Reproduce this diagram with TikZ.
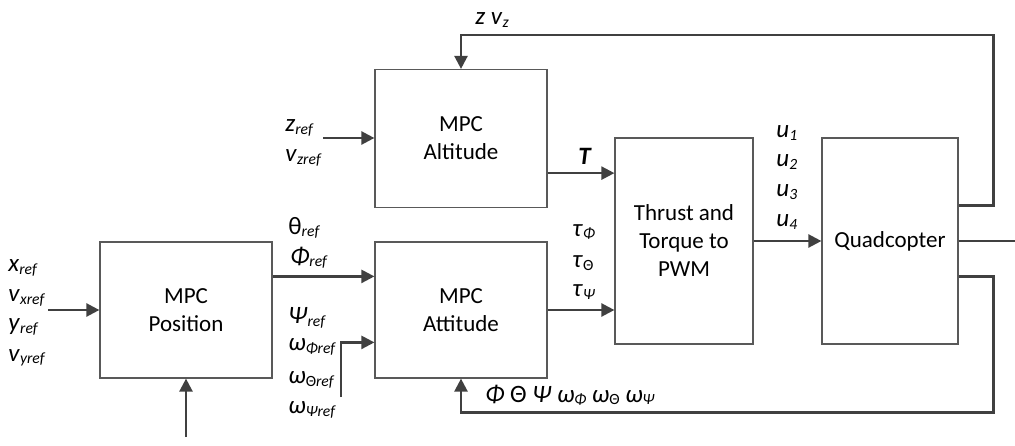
\documentclass[tikz,border=0pt]{standalone}
\usepackage{fontspec}
\setmainfont{Carlito}
\usetikzlibrary{arrows.meta, positioning, calc}

% senal con subindice
\newcommand{\sig}[2]{\textit{#1}\raisebox{-0.2ex}{\fontsize{7.8}{9}\selectfont\textit{#2}}}

\begin{document}
\begin{tikzpicture}[x=0.5pt, y=-0.5pt,
    block/.style={draw=black!65, line width=0.6pt, align=center, inner sep=0pt,
        font=\fontsize{11.5}{14}\selectfont},
    arr/.style={draw=black!75, line width=1.2pt, -{Triangle[length=6.5pt,width=6.5pt]}},
    wire/.style={draw=black!75, line width=1.2pt},
    lbl/.style={anchor=west, inner sep=0pt, font=\fontsize{12.5}{14}\selectfont}]

    \useasboundingbox (0,0) rectangle (1015,445);

    % Bloques del controlador
    \node[block, minimum width=86pt, minimum height=68pt] (pos) at (186,310) {MPC\\Position};
    \node[block, minimum width=86pt, minimum height=69pt] (alt) at (461,138.5) {MPC\\Altitude};
    \node[block, minimum width=86pt, minimum height=68pt] (att) at (461,310) {MPC\\Attitude};
    \node[block, minimum width=69pt, minimum height=103pt] (thr) at (684,241) {Thrust and\\Torque to\\PWM};
    \node[block, minimum width=68pt, minimum height=103pt] (quad) at (890,241) {Quadcopter};

    % Entradas libres
    \coordinate (xin) at (48,310);
    \coordinate (zin) at (323,138);
    \coordinate (win) at (341,397);
    \coordinate (pin) at (186,437);
    \coordinate (out) at (1015,241);

    % Conexiones
    \draw[arr] (xin) -- (xin -| pos.west);
    \draw[arr] (pin) -- (pos.south);
    \draw[arr] ($(pos.north east)+(0,35)$) coordinate (p1) -- (p1 -| att.west);
    \draw[arr] (win) |- ($(att.north west)+(0,101)$);
    \draw[arr] (zin) -- (zin -| alt.west);
    \draw[arr] ($(alt.south east)+(0,-35)$) coordinate (t1) -- (t1 -| thr.west);
    \draw[arr] (att.east) -- (att.east -| thr.west);
    \draw[arr] (thr.east) -- (quad.west);
    \draw[wire] (quad.east) -- (out);

    % Realimentaciones
    \draw[arr] ($(quad.north east)+(0,68)$) -- ++(35,0) |- ($(alt.north)+(0,-34)$) -- (alt.north);
    \draw[arr] ($(quad.south east)+(0,-68)$) -- ++(35,0) |- ($(att.south)+(0,34)$) -- (att.south);

    % Etiquetas de referencias
    \node[lbl] (xr) at (8,268) {\sig{x}{ref}};
    \node[lbl] (vxr) at (8,298) {\sig{v}{xref}};
    \node[lbl] (yr) at (8,327) {\sig{y}{ref}};
    \node[lbl] (vyr) at (8,358) {\sig{v}{yref}};

    \node[lbl] (zr) at (285,128) {\sig{z}{ref}};
    \node[lbl] (vzr) at (285,158) {\sig{v}{zref}};

    \node[lbl] (thr1) at (288,228) {\sig{\upshape θ}{ref}};
    \node[lbl] (phr) at (290,258) {\sig{Φ}{ref}};
    \node[lbl] (psr) at (288,318) {\sig{Ψ}{ref}};
    \node[lbl] (wphr) at (288,347) {\sig{ω}{Φref}};
    \node[lbl] (wthr) at (288,380) {\sig{ω}{\upshape Θ\itshape ref}};
    \node[lbl] (wpsr) at (288,410) {\sig{ω}{Ψref}};

    % Etiquetas de salidas
    \node[lbl] (tt) at (578,156) {\textbf{\textit{T}}};
    \node[lbl] (tph) at (572,232) {\sig{τ}{Φ}};
    \node[lbl] (tth) at (572,263) {\sig{τ}{\upshape Θ}};
    \node[lbl] (tps) at (572,292) {\sig{τ}{Ψ}};

    \node[lbl] (u1) at (776,133) {\sig{u}{1}};
    \node[lbl] (u2) at (776,162) {\sig{u}{2}};
    \node[lbl] (u3) at (776,192) {\sig{u}{3}};
    \node[lbl] (u4) at (776,222) {\sig{u}{4}};

    \node[lbl] (zfb) at (475,20) {\textit{z} \sig{v}{z}};
    \node[lbl] (afb) at (485,395) {\textit{Φ} \textup{Θ} \textit{Ψ} \sig{ω}{Φ} \sig{ω}{\upshape Θ} \sig{ω}{Ψ}};

\end{tikzpicture}
\end{document}
